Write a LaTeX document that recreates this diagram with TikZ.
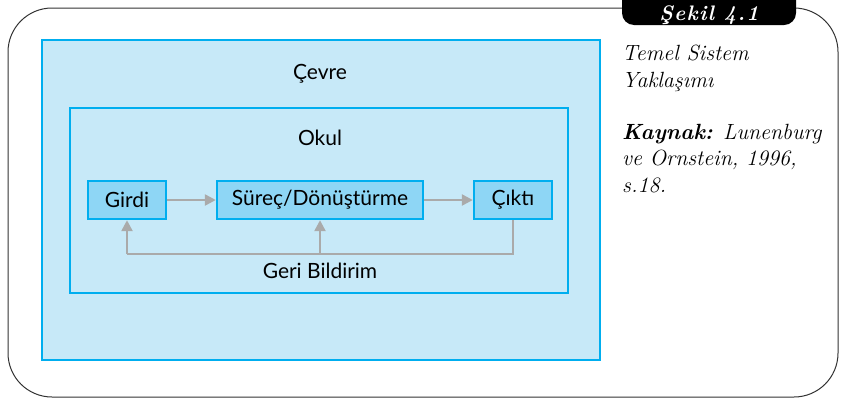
\documentclass[tikz,border=0pt]{standalone}
\usepackage{fontspec}
\setmainfont{Latin Modern Roman}
\newfontfamily\diagfont{Lato}
\newfontfamily\tabfont[LetterSpace=6]{Latin Modern Roman}
\usetikzlibrary{arrows.meta}
\definecolor{envfill}{HTML}{C7E9F8}
\definecolor{boxfill}{HTML}{8ED6F5}
\definecolor{cyanline}{HTML}{00AEEF}
\definecolor{arrowgray}{HTML}{AAAAAA}
\definecolor{framegray}{HTML}{333333}
\tikzset{
  region/.style={draw=cyanline, line width=2.4pt, fill=envfill},
  procbox/.style={draw=cyanline, line width=2.4pt, fill=boxfill, font=\diagfont\fontsize{21}{24}\selectfont, inner sep=0pt},
  lbl/.style={font=\diagfont\fontsize{21}{24}\selectfont},
  flow/.style={draw=arrowgray, line width=2.4pt, -{Triangle[length=11pt,width=11pt]}},
  fb/.style={draw=arrowgray, line width=2.4pt},
  side/.style={font=\fontsize{22}{26.5}\selectfont\itshape, align=left, anchor=north west, inner sep=0pt}
}
\begin{document}
\begin{tikzpicture}[x=1pt,y=-1pt]
\useasboundingbox (0,0) rectangle (845,400);
% outer frame
\draw[framegray, line width=1pt, rounded corners=44pt] (8,8) rectangle (838,397);
% tab
\fill[black, rounded corners=12pt] (622,-15) rectangle (796,25);
\node[text=white, font=\tabfont\fontsize{21}{21}\selectfont\bfseries\itshape, anchor=base] (tab) at (709,20) {Şekil 4.1};
% environment
\draw[region] (42,40) rectangle (600,360);
\node[lbl] (cevre) at (320,74) {Çevre};
% school
\draw[region] (70,108) rectangle (568,293);
\node[lbl] (okul) at (320,138) {Okul};
% process boxes
\node[procbox, minimum width=78pt, minimum height=38pt] (girdi) at (127,200) {Girdi};
\node[procbox, minimum width=206pt, minimum height=38pt] (surec) at (320,200) {Süreç/Dönüştürme};
\node[procbox, minimum width=78pt, minimum height=38pt] (cikti) at (513,200) {Çıktı};
\draw[flow] (girdi.east) -- (surec.west);
\draw[flow] (surec.east) -- (cikti.west);
\coordinate (fbR) at (513,254);
\coordinate (fbM) at (320,254);
\coordinate (fbL) at (127,254);
\draw[fb] (cikti.south) -- (fbR) -- (fbL);
\draw[flow] (fbL) -- (girdi.south);
\draw[flow] (fbM) -- (surec.south);
\node[lbl] (geri) at (320,271) {Geri Bildirim};
% side text
\node[side] (title) at (622,45) {Temel Sistem\\Yaklaşımı};
\node[side] (src) at (622,124) {\textbf{Kaynak:} Lunenburg\\ve Ornstein, 1996,\\s.18.};
\end{tikzpicture}
\end{document}
